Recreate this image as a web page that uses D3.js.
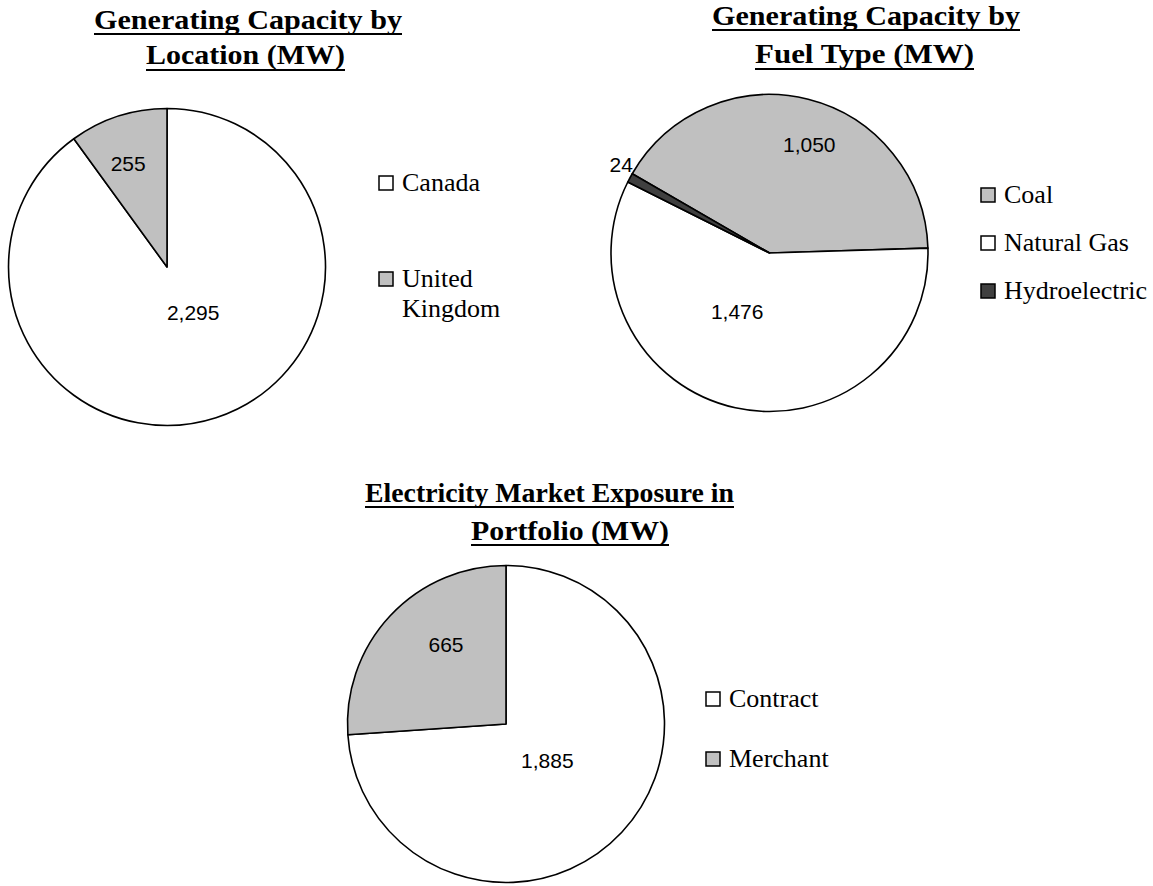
<!DOCTYPE html>
<html>
<head>
<meta charset="utf-8">
<script src="https://cdn.jsdelivr.net/npm/d3@7"></script>
<style>
  html, body { margin: 0; padding: 0; background: #fff; }
  svg { display: block; }
</style>
</head>
<body>
<svg id="chart" width="1153" height="886"></svg>
<script>
// ---- Data ----
const locationCategories = ["Canada", "United Kingdom"];
const locationValues = [2295, 255];

const fuelCategories = ["Coal", "Natural Gas", "Hydroelectric"];
const fuelValues = [1050, 1476, 24];

const marketCategories = ["Contract", "Merchant"];
const marketValues = [1885, 665];

// ---- Styling ----
const fillFor = {
  "Canada": "#ffffff", "United Kingdom": "#c0c0c0",
  "Coal": "#c0c0c0", "Natural Gas": "#ffffff", "Hydroelectric": "#404040",
  "Contract": "#ffffff", "Merchant": "#c0c0c0"
};
const legendLines = { "United Kingdom": ["United", "Kingdom"] };

const SERIF = "'Liberation Serif', 'Times New Roman', Times, serif";
const SANS = "'Liberation Sans', Arial, Helvetica, sans-serif";

const fmt = d3.format(",");
const svg = d3.select("#chart");
const R = 158.5;

// Layout for each of the three pies
const charts = [
  {
    title: [
      { text: "Generating Capacity by", cx: 248, y: 29, w: 308, uy: 34 },
      { text: "Location (MW)", cx: 245.5, y: 64, w: 199, uy: 70 }
    ],
    categories: locationCategories, values: locationValues,
    cx: 167, cy: 267, start: 0,
    labels: [ { shift: -12, k: 0.33 }, { shift: -2.5, k: 0.70 } ],
    legend: { x: 379, y: 176, step: 96 }
  },
  {
    title: [
      { text: "Generating Capacity by", cx: 866, y: 25, w: 308, uy: 30 },
      { text: "Fuel Type (MW)", cx: 864.5, y: 63, w: 219, uy: 69 }
    ],
    categories: fuelCategories, values: fuelValues,
    cx: 769.5, cy: 253, start: -60,
    labels: [ { shift: 6, k: 0.73 }, { shift: 16.6, k: 0.42 }, { shift: 2.6, k: 1.09 } ],
    legend: { x: 981, y: 188, step: 48 }
  },
  {
    title: [
      { text: "Electricity Market Exposure in", cx: 549.5, y: 502, w: 369, uy: 507 },
      { text: "Portfolio (MW)", cx: 570, y: 540, w: 198, uy: 545 }
    ],
    categories: marketCategories, values: marketValues,
    cx: 506, cy: 724, start: 0,
    labels: [ { shift: -1.3, k: 0.35 }, { shift: 10, k: 0.63 } ],
    legend: { x: 706, y: 692, step: 60 }
  }
];

const rad = d => d * Math.PI / 180;

charts.forEach(c => {
  // Title with underline
  const tg = svg.append("g");
  c.title.forEach(t => {
    tg.append("text")
      .attr("x", t.cx).attr("y", t.y)
      .attr("text-anchor", "middle")
      .style("font-family", SERIF)
      .attr("font-weight", "bold")
      .attr("font-size", 28)
      .attr("textLength", t.w)
      .attr("lengthAdjust", "spacingAndGlyphs")
      .text(t.text);
    tg.append("line")
      .attr("x1", t.cx - t.w / 2).attr("x2", t.cx + t.w / 2)
      .attr("y1", t.uy).attr("y2", t.uy)
      .attr("stroke", "#000").attr("stroke-width", 2.2);
  });

  // Pie
  const data = c.categories.map((name, i) => ({ name, value: c.values[i] }));
  const pie = d3.pie().sort(null).value(d => d.value)
    .startAngle(rad(c.start)).endAngle(rad(c.start) + 2 * Math.PI);
  const arcs = pie(data);
  const arc = d3.arc().innerRadius(0).outerRadius(R);

  const g = svg.append("g").attr("transform", `translate(${c.cx},${c.cy})`);
  g.selectAll("path").data(arcs).join("path")
    .attr("d", arc)
    .attr("fill", d => fillFor[d.data.name])
    .attr("stroke", "#000")
    .attr("stroke-width", 1.6)
    .attr("stroke-linejoin", "round");

  // Value labels
  g.selectAll("text.val").data(arcs).join("text")
    .attr("class", "val")
    .each(function (d, i) {
      const lay = c.labels[i];
      const a = (d.startAngle + d.endAngle) / 2 + rad(lay.shift);
      const r = R * lay.k;
      d3.select(this)
        .attr("x", r * Math.sin(a))
        .attr("y", -r * Math.cos(a));
    })
    .attr("text-anchor", "middle")
    .attr("dominant-baseline", "central")
    .style("font-family", SANS)
    .attr("font-size", 21)
    .attr("fill", "#000")
    .text(d => fmt(d.value));

  // Legend
  const lg = svg.append("g");
  c.categories.forEach((name, i) => {
    const y = c.legend.y + i * c.legend.step;
    lg.append("rect")
      .attr("x", c.legend.x).attr("y", y)
      .attr("width", 14).attr("height", 14)
      .attr("fill", fillFor[name])
      .attr("stroke", "#000").attr("stroke-width", 1.5);
    const lines = legendLines[name] || [name];
    const txt = lg.append("text")
      .style("font-family", SERIF)
      .attr("font-size", 26)
      .attr("fill", "#000");
    lines.forEach((ln, j) => {
      txt.append("tspan")
        .attr("x", c.legend.x + 23)
        .attr("y", y + 15 + j * 30)
        .text(ln);
    });
  });
});
</script>
</body>
</html>
